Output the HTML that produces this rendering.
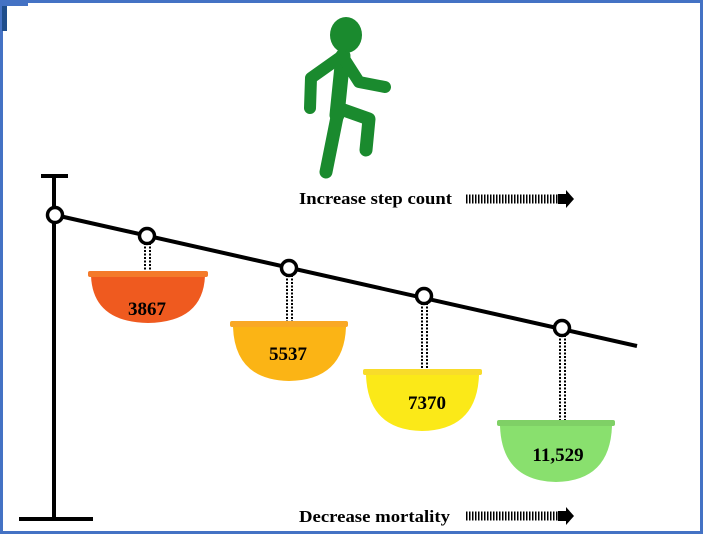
<!DOCTYPE html>
<html><head><style>
body{margin:0;background:#fff}
svg{display:block}
text{font-family:"Liberation Serif",serif;font-weight:bold}
</style></head><body>
<svg width="704" height="536" viewBox="0 0 704 536" xmlns="http://www.w3.org/2000/svg">
<rect x="0" y="0" width="704" height="536" fill="#fff"/>
<rect x="1.5" y="1.5" width="700" height="531" fill="none" stroke="#4472c4" stroke-width="3"/>
<rect x="2" y="3" width="5" height="28" fill="#1f4e8c"/>
<rect x="2" y="3" width="26" height="3" fill="#4472c4"/>
<!-- walker -->
<g fill="#1a8a2e" stroke="#1a8a2e" stroke-linecap="round" stroke-linejoin="round">
<ellipse cx="346" cy="35" rx="16" ry="18" stroke="none"/>
<path d="M343 56 L337 115" stroke-width="15" fill="none"/>
<path d="M342 56 L311 78 L310 108" stroke-width="12" fill="none"/>
<path d="M343 57 L359 82 L385 87" stroke-width="12" fill="none"/>
<path d="M338 108 L369 119 L366 150" stroke-width="13" fill="none"/>
<path d="M338 112 L326 172" stroke-width="13" fill="none"/>
</g>
<text x="299" y="204" font-size="17" textLength="153" lengthAdjust="spacingAndGlyphs">Increase step count</text>
<text x="299" y="522" font-size="17" textLength="151" lengthAdjust="spacingAndGlyphs">Decrease mortality</text>
<g stroke="#000" stroke-width="9" stroke-dasharray="1.5 1.5"><line x1="466" y1="199" x2="560" y2="199"/><line x1="466" y1="516" x2="560" y2="516"/></g>
<path d="M558 194 L566 194 L566 190 L574 199 L566 208 L566 204 L558 204Z"/>
<path d="M558 511 L566 511 L566 507 L574 516 L566 525 L566 521 L558 521Z"/>
<!-- stand -->
<g stroke="#000" stroke-width="4">
<line x1="54" y1="175" x2="54" y2="519"/>
<line x1="41" y1="176" x2="68" y2="176"/>
<line x1="19" y1="519" x2="93" y2="519"/>
<line x1="55" y1="215" x2="637" y2="346"/>
</g>
<!-- strings -->
<g stroke="#000" stroke-width="2" stroke-dasharray="2 1.5">
<line x1="145" y1="243" x2="145" y2="272"/><line x1="150" y1="243" x2="150" y2="272"/>
<line x1="287" y1="275" x2="287" y2="322"/><line x1="292" y1="275" x2="292" y2="322"/>
<line x1="422" y1="303" x2="422" y2="370"/><line x1="427" y1="303" x2="427" y2="370"/>
<line x1="560" y1="335" x2="560" y2="421"/><line x1="565" y1="335" x2="565" y2="421"/>
</g>
<g fill="#fff" stroke="#000" stroke-width="3.5">
<circle cx="55" cy="215" r="7.5"/><circle cx="147" cy="236" r="7.5"/><circle cx="289" cy="268" r="7.5"/><circle cx="424" cy="296" r="7.5"/><circle cx="562" cy="328" r="7.5"/>
</g>
<!-- bowls -->
<path d="M91 276 L205 276 Q203 322 148 323 Q93 322 91 276Z" fill="#ef5a1f"/>
<rect x="88" y="271" width="120" height="6" rx="2" fill="#f47a2a"/>
<text x="147" y="315" font-size="19" text-anchor="middle">3867</text>
<path d="M233 327 L346 327 Q344 380 289 381 Q235 380 233 327Z" fill="#fbb415"/>
<rect x="230" y="321" width="118" height="6" rx="2" fill="#f9a825"/>
<text x="288" y="360" font-size="19" text-anchor="middle">5537</text>
<path d="M366 375 L479 375 Q477 430 422 431 Q368 430 366 375Z" fill="#fbe918"/>
<rect x="363" y="369" width="119" height="6" rx="2" fill="#f8dc2a"/>
<text x="427" y="409" font-size="19" text-anchor="middle">7370</text>
<path d="M500 426 L612 426 Q610 481 556 482 Q502 481 500 426Z" fill="#89e06e"/>
<rect x="497" y="420" width="118" height="6" rx="2" fill="#7fd066"/>
<text x="558" y="461" font-size="19" text-anchor="middle">11,529</text>
</svg>
</body></html>
